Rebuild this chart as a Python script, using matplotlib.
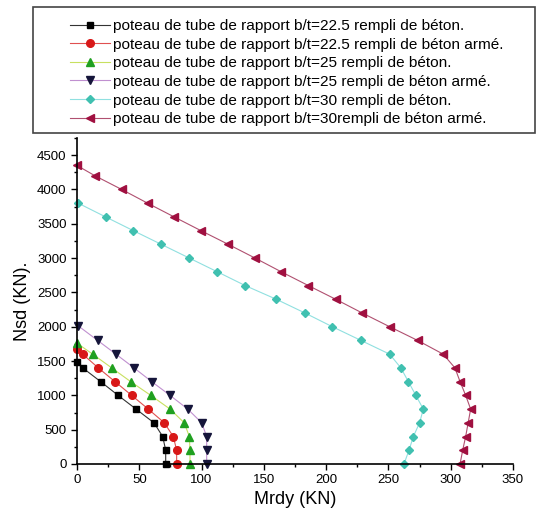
import matplotlib
matplotlib.use("Agg")
import matplotlib.pyplot as plt
from matplotlib.patches import Rectangle

plt.rcParams['font.family'] = ['Liberation Sans', 'DejaVu Sans']

# Data (Mrdy in KN, Nsd in KN)
s1_x = [0, 4.6, 19, 33, 47.4, 61.8, 68.8, 71.2, 71.2]
s1_y = [1480, 1400, 1200, 1000, 800, 600, 400, 200, 0]
s2_x = [0.2, 4.6, 17.1, 30.5, 43.9, 57.2, 70.1, 77.3, 80, 80]
s2_y = [1680, 1600, 1400, 1200, 1000, 800, 600, 400, 200, 0]
s3_x = [0, 12.6, 27.9, 43.1, 59.2, 74.7, 86.1, 90.2, 90.7, 90.7]
s3_y = [1760, 1600, 1400, 1200, 1000, 800, 600, 400, 200, 0]
s4_x = [1.2, 16.6, 31.3, 45.8, 60, 74.7, 88.9, 100.1, 104.1, 104.1, 104.1]
s4_y = [2010, 1800, 1600, 1400, 1200, 1000, 800, 600, 400, 200, 0]
s5_x = [1, 23, 45.2, 67.7, 90.2, 112.7, 135, 160, 183, 205, 228, 251, 260, 266, 272, 278, 275, 270, 266.5, 262.5]
s5_y = [3800, 3600, 3400, 3200, 3000, 2800, 2600, 2400, 2200, 2000, 1800, 1600, 1400, 1200, 1000, 800, 600, 400, 200, 0]
s6_x = [0, 14.4, 35.9, 56.7, 78, 99.5, 121.5, 143, 164, 185.7, 207.7, 229, 251, 273.5, 294, 303.4, 307.5, 312, 316, 314, 312, 309.6, 307.5]
s6_y = [4350, 4200, 4000, 3800, 3600, 3400, 3200, 3000, 2800, 2600, 2400, 2200, 2000, 1800, 1600, 1400, 1200, 1000, 800, 600, 400, 200, 0]

labels = [
    "poteau de tube de rapport b/t=22.5 rempli de béton.",
    "poteau de tube de rapport b/t=22.5 rempli de béton armé.",
    "poteau de tube de rapport b/t=25 rempli de béton.",
    "poteau de tube de rapport b/t=25 rempli de béton armé.",
    "poteau de tube de rapport b/t=30 rempli de béton.",
    "poteau de tube de rapport b/t=30rempli de béton armé.",
]

W, H = 536, 519
fig = plt.figure(figsize=(W / 100, H / 100), dpi=100)
ax = fig.add_axes([77 / W, 1 - 464 / H, (513 - 77) / W, (464 - 138) / H])

styles = [
    dict(color='#333333', marker='s', mfc='black', mec='black', ms=4.5),
    dict(color='#e05050', marker='o', mfc='#d81818', mec='#d81818', ms=5.5),
    dict(color='#c8e060', marker='^', mfc='#20a020', mec='#20a020', ms=5.5),
    dict(color='#c090d0', marker='v', mfc='#15153a', mec='#15153a', ms=5.5),
    dict(color='#90e0e0', marker='D', mfc='#40c0b0', mec='#40c0b0', ms=4),
    dict(color='#b05070', marker='<', mfc='#a01040', mec='#a01040', ms=5.5),
]
series = [(s1_x, s1_y), (s2_x, s2_y), (s3_x, s3_y), (s4_x, s4_y), (s5_x, s5_y), (s6_x, s6_y)]
handles = []
for (x, y), st, lab in zip(series, styles, labels):
    h, = ax.plot(x, y, lw=0.8, label=lab, clip_on=False, **st)
    handles.append(h)

ax.set_xlim(0, 350)
ax.set_ylim(0, 4750)
ax.set_xticks(range(0, 351, 50))
ax.set_xticks(range(0, 351, 25), minor=True)
ax.set_yticks(range(0, 4501, 500))
ax.set_yticks(range(0, 4751, 250), minor=True)
for s in ['top', 'right']:
    ax.spines[s].set_visible(False)
for s in ['left', 'bottom']:
    ax.spines[s].set_linewidth(1.2)
ax.tick_params(which='major', direction='out', length=4, width=1, labelsize=9.5)
ax.tick_params(which='minor', direction='out', length=2.5, width=1)
ax.set_xlabel("Mrdy (KN)", fontsize=13, labelpad=3)
ax.set_ylabel("Nsd (KN).", fontsize=13, labelpad=4)

# legend box
fig.patches.append(Rectangle((33 / W, 1 - 133 / H), (535 - 33) / W, (133 - 7) / H,
                             transform=fig.transFigure, fill=False, edgecolor='#444444', lw=1.2))
fig.legend(handles=handles, loc='upper left', bbox_to_anchor=(70 / W, 1 - 19 / H),
           frameon=False, fontsize=11.1, handlelength=2.6, handletextpad=0.2,
           labelspacing=0.3, borderpad=0, borderaxespad=0)

fig.savefig("out.png", dpi=100)
